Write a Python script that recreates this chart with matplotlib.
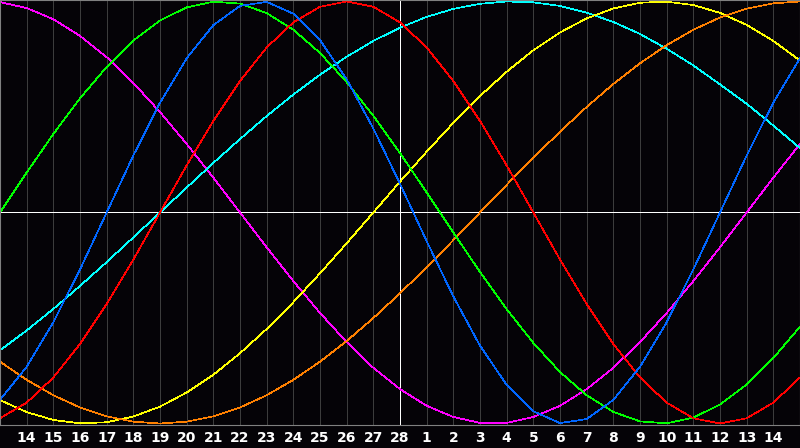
import matplotlib
matplotlib.use("Agg")
import matplotlib.pyplot as plt

# day labels under the grid lines (centre line = 28)
day_labels = ["14", "15", "16", "17", "18", "19", "20", "21", "22", "23", "24", "25", "26", "27",
              "28", "1", "2", "3", "4", "5", "6", "7", "8", "9", "10", "11", "12", "13", "14"]

# curve values read at each day line, 31 points from left edge to right edge
physical = [-0.888, -0.731, -0.520, -0.270, 0.0, 0.270, 0.520, 0.731, 0.888, 0.979, 0.998,
            0.942, 0.817, 0.631, 0.398, 0.136, -0.136, -0.398, -0.631, -0.817, -0.942,
            -0.998, -0.979, -0.888, -0.731, -0.520, -0.270, 0.0, 0.270, 0.520, 0.731]
emotional = [-0.975, -0.901, -0.782, -0.623, -0.434, -0.223, 0.0, 0.223, 0.434, 0.623, 0.782,
             0.901, 0.975, 1.0, 0.975, 0.901, 0.782, 0.623, 0.434, 0.223, 0.0,
             -0.223, -0.434, -0.623, -0.782, -0.901, -0.975, -1.0, -0.975, -0.901, -0.782]
intellectual = [0.0, 0.189, 0.372, 0.541, 0.690, 0.815, 0.910, 0.972, 0.999, 0.990, 0.945,
                0.866, 0.756, 0.618, 0.458, 0.282, 0.095, -0.095, -0.282, -0.458, -0.618,
                -0.756, -0.866, -0.945, -0.990, -0.999, -0.972, -0.910, -0.815, -0.690, -0.541]
intuitive = [0.997, 0.969, 0.916, 0.837, 0.736, 0.614, 0.476, 0.325, 0.165, 0.0, -0.165,
             -0.325, -0.476, -0.614, -0.736, -0.837, -0.916, -0.969, -0.997, -0.997, -0.969,
             -0.916, -0.837, -0.736, -0.614, -0.476, -0.325, -0.165, 0.0, 0.165, 0.325]
aesthetic = [-0.889, -0.946, -0.983, -0.999, -0.994, -0.967, -0.920, -0.853, -0.769, -0.667, -0.552,
             -0.425, -0.288, -0.146, 0.0, 0.146, 0.288, 0.425, 0.552, 0.667, 0.769,
             0.853, 0.920, 0.967, 0.994, 0.999, 0.983, 0.946, 0.889, 0.813, 0.720]
awareness = [-0.707, -0.793, -0.866, -0.924, -0.966, -0.991, -1.0, -0.991, -0.966, -0.924, -0.866,
             -0.793, -0.707, -0.609, -0.500, -0.383, -0.259, -0.131, 0.0, 0.131, 0.259,
             0.383, 0.500, 0.609, 0.707, 0.793, 0.866, 0.924, 0.966, 0.991, 1.0]
spiritual = [-0.653, -0.559, -0.457, -0.348, -0.235, -0.118, 0.0, 0.118, 0.235, 0.348, 0.457,
             0.559, 0.653, 0.738, 0.813, 0.876, 0.927, 0.965, 0.989, 1.0, 0.996,
             0.979, 0.947, 0.903, 0.846, 0.776, 0.697, 0.607, 0.515, 0.412, 0.305]

days = list(range(len(physical)))

bg = "#050307"
fig = plt.figure(figsize=(8, 4.48), dpi=100, facecolor=bg)
ax = fig.add_axes([0, 23 / 448, 1, 425 / 448], facecolor=bg)

# vertical day grid
for i in range(1, len(days) - 1):
    if i == 15:
        continue
    ax.axvline(i, color="#3c3c3c", lw=0.7, antialiased=False, zorder=1)
ax.axvline(15, color="white", lw=0.72, antialiased=False, zorder=1)
ax.axhline(0, color="white", lw=0.72, antialiased=False, zorder=1)

curves = [
    (intuitive, "#ff00ff"),
    (spiritual, "#00ffff"),
    (aesthetic, "#ffff00"),
    (awareness, "#ff8000"),
    (intellectual, "#00ff00"),
    (emotional, "#ff0000"),
    (physical, "#0066ff"),
]
for vals, col in curves:
    ax.plot(days, vals, color=col, lw=0.5, antialiased=False, zorder=2)

ax.set_xlim(0, 30)
ax.set_ylim(-1.007, 1.007)
ax.set_yticks([])
ax.set_xticks(range(1, 30))
ax.set_xticklabels(day_labels, fontsize=10, fontweight="bold", color="white",
                   family="DejaVu Sans")
ax.tick_params(axis="x", length=0, pad=4)
for s in ax.spines.values():
    s.set_color("#808080")
    s.set_linewidth(0.8)

fig.savefig("out.png", dpi=100, facecolor=bg)
